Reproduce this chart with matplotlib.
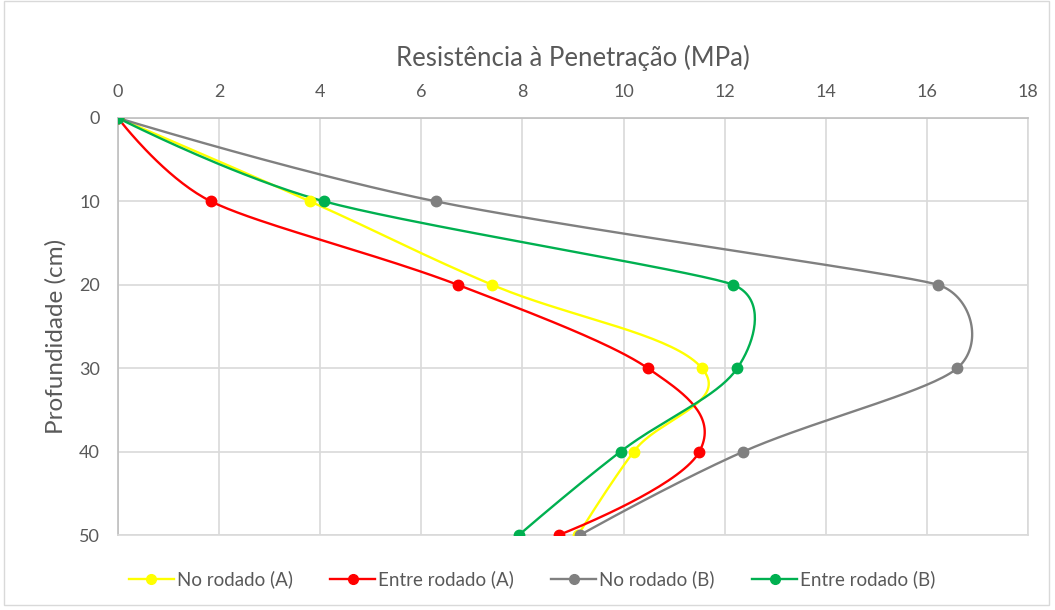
import numpy as np
import matplotlib.pyplot as plt
from matplotlib.patches import Rectangle

# Depths (cm) and resistance values (MPa)
profundidade = [0, 10, 20, 30, 40, 50]
no_rodado_a = [0, 3.8, 7.4, 11.55, 10.2, 9.1]
entre_rodado_a = [0, 1.84, 6.72, 10.48, 11.5, 8.72]
no_rodado_b = [0, 6.29, 16.22, 16.6, 12.37, 9.14]
entre_rodado_b = [0, 4.08, 12.17, 12.25, 9.94, 7.93]

labels = ['No rodado (A)', 'Entre rodado (A)', 'No rodado (B)', 'Entre rodado (B)']
colors = ['#FFFF00', '#FF0000', '#808080', '#00B050']
series = [no_rodado_a, entre_rodado_a, no_rodado_b, entre_rodado_b]


def smooth(xs, ys, kx, ky, f=0.42, n=40):
    # Excel-like smoothed line: cubic Bezier segments; the tangent at each point
    # follows its neighbours and its length follows the shorter adjacent chord.
    # Worked out in screen units (kx, ky = px per data unit).
    p = np.column_stack([np.array(xs) * kx, np.array(ys) * ky]).astype(float)
    p = np.vstack([p[0], p, p[-1]])
    tang = np.zeros_like(p)
    for i in range(1, len(p) - 1):
        d = p[i + 1] - p[i - 1]
        nd = np.hypot(*d)
        if nd == 0:
            continue
        lo = min(np.hypot(*(p[i] - p[i - 1])), np.hypot(*(p[i + 1] - p[i])))
        tang[i] = d / nd * lo * f
    t = np.linspace(0, 1, n)[:, None]
    out = []
    for i in range(1, len(p) - 2):
        p1, p2 = p[i], p[i + 1]
        c1 = p1 + tang[i]
        c2 = p2 - tang[i + 1]
        seg = ((1 - t) ** 3) * p1 + 3 * ((1 - t) ** 2) * t * c1 + 3 * (1 - t) * t ** 2 * c2 + t ** 3 * p2
        out.append(seg)
    seg = np.vstack(out)
    return seg[:, 0] / kx, seg[:, 1] / ky


plt.rcParams['font.family'] = ['Lato', 'DejaVu Sans']
text_color = '#595959'

fig = plt.figure(figsize=(10.55, 6.10), dpi=100)
ax = fig.add_axes([118 / 1055, 1 - 535 / 610, 910 / 1055, 417 / 610])

xmax, ymax = 18, 50
kx = 910 / xmax
ky = 417 / ymax

for vals, color, label in zip(series, colors, labels):
    sx, sy = smooth(vals, profundidade, kx, ky)
    ax.plot(sx, sy, color=color, lw=1.7, zorder=3)
    ax.plot(vals, profundidade, 'o', color=color, ms=7.5, zorder=4)
    ax.plot([], [], '-o', color=color, lw=1.7, ms=7, label=label)

ax.set_xlim(0, xmax)
ax.set_ylim(ymax, 0)
ax.set_xticks(range(0, 19, 2))
ax.set_yticks(range(0, 51, 10))
ax.xaxis.tick_top()
ax.xaxis.set_label_position('top')
ax.grid(True, color='#d9d9d9', lw=1.2, zorder=0)
ax.tick_params(length=0, labelsize=13, colors=text_color, pad=13)
for s in ax.spines.values():
    s.set_color('#d9d9d9')
    s.set_linewidth(1.2)
ax.spines['left'].set_color('#bfbfbf')
ax.spines['top'].set_color('#bfbfbf')

ax.set_xlabel('Resistência à Penetração (MPa)', fontsize=18.5, color=text_color, labelpad=13)
ax.set_ylabel('Profundidade (cm)', fontsize=17.5, color=text_color)
ax.yaxis.set_label_coords(-0.057, 0.475)

ax.legend(loc='upper center', bbox_to_anchor=(0.455, -0.045), ncol=4, frameon=False,
          fontsize=13.5, labelcolor=text_color, handlelength=2.4, handletextpad=0.15,
          columnspacing=2.0)

fig.patches.append(Rectangle((0.004, 0.008), 0.99, 0.99, transform=fig.transFigure,
                             fill=False, edgecolor='#d9d9d9', lw=1))

fig.savefig('out.png', dpi=100)
